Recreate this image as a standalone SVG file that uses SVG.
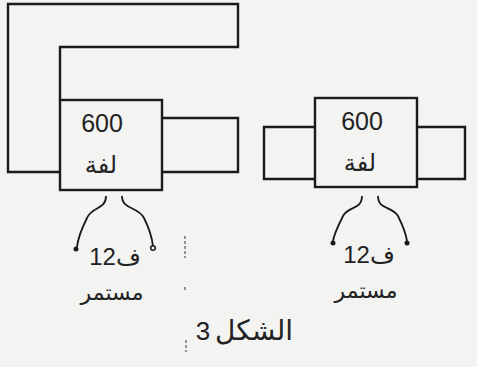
<svg xmlns="http://www.w3.org/2000/svg" width="477" height="367" viewBox="0 0 477 367">
<style>
.w{fill:none;stroke:#1a1a1a;stroke-width:2.4;stroke-linejoin:miter}
.lead{fill:none;stroke:#1a1a1a;stroke-width:1.8}
.t{font-family:"Liberation Sans","DejaVu Sans",sans-serif;fill:#222;text-anchor:middle}
.n{font-size:25px}
.a{font-size:24px}
.s{font-size:22px}
.f{font-size:24px}
</style>
<rect width="477" height="367" fill="#f3f3f2"/>
<g id="connectors">
  <path class="w" d="M60,100 V47 H238 V4 H8 V172 H60"/>
  <path class="w" d="M162,118 H238 V172 H162"/>
  <path class="w" d="M315,127 H264 V179 H315"/>
  <path class="w" d="M417,127 H465 V179 H417"/>
  <path class="lead" d="M106,196 C106,210 92,206 87,218 C82,228 78,238 77,247"/>
  <path class="lead" d="M122,196 C122,210 138,206 144,218 C149,228 152,238 153,246"/>
  <circle cx="76" cy="249" r="2.5" fill="#1a1a1a"/>
  <circle cx="153" cy="248" r="2.3" fill="none" stroke="#1a1a1a" stroke-width="1.5"/>
  <path class="lead" d="M362,196 C362,210 348,206 343,216 C338,226 334,234 333,241"/>
  <path class="lead" d="M378,196 C378,210 392,206 398,216 C403,226 406,234 407,241"/>
  <circle cx="333" cy="243" r="2.5" fill="#1a1a1a"/>
  <circle cx="407" cy="243" r="2.5" fill="#1a1a1a"/>
  <path d="M185,236 V258 M185,287 V292 M186,340 V352" stroke="#555" stroke-width="1.2" stroke-dasharray="3,2" fill="none"/>
</g>
<g id="coil-left">
  <rect class="w" x="60" y="100" width="102" height="90"/>
  <text class="t n" x="102" y="132">600</text>
  <text class="t a" x="101" y="173">لفة</text>
</g>
<g id="coil-right">
  <rect class="w" x="315" y="98" width="102" height="89"/>
  <text class="t n" x="362" y="130">600</text>
  <text class="t a" x="360" y="171">لفة</text>
</g>
<g id="label-left">
  <text class="t f" x="115" y="265">12ف</text>
  <text class="t s" x="112" y="300">مستمر</text>
</g>
<g id="label-right">
  <text class="t f" x="369" y="263">12ف</text>
  <text class="t s" x="366" y="298">مستمر</text>
</g>
<g id="caption">
  <text class="t" x="203" y="340" font-size="26px">3</text>
  <text class="t" x="254" y="340" font-size="28px">الشكل</text>
</g>
</svg>
